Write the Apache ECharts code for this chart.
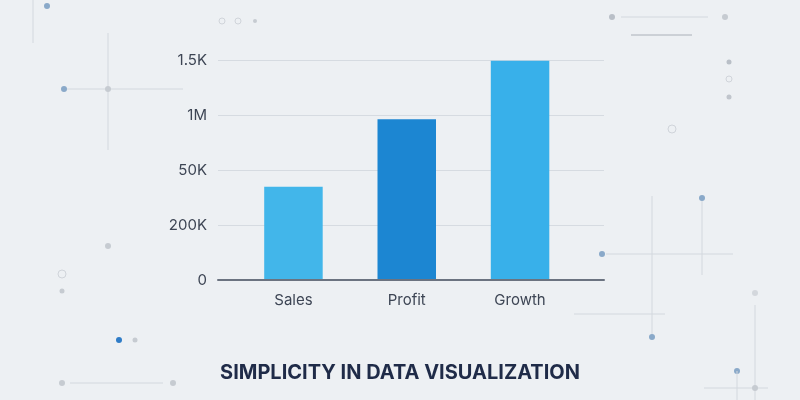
<!DOCTYPE html>
<html>
<head>
<meta charset="utf-8">
<script src="https://cdn.jsdelivr.net/npm/echarts@6/dist/echarts.min.js"></script>
<style>
html,body{margin:0;padding:0;background:#edf0f3;}
#c{width:800px;height:400px;}
</style>
</head>
<body>
<div id="c"></div>
<script>
// Data
const categories = ['Sales', 'Profit', 'Growth'];
const values = [1.70, 2.93, 4.0];           // in axis tick-step units
const yTickLabels = ['0', '200K', '50K', '1M', '1.5K'];
const barColors = ['#42b6ea', '#1c86d2', '#38b0ea'];
const titleText = 'SIMPLICITY IN DATA VISUALIZATION';

// Decorations (background ornaments only)
const lineC = '#d3d8de', dotBlue = '#8aa9c9', dotGray = '#c6cbd1';
function ln(x1,y1,x2,y2,c){return {type:'line',silent:true,z:-10,shape:{x1,y1,x2,y2},style:{stroke:c||lineC,lineWidth:1}};}
function dot(x,y,r,c){return {type:'circle',silent:true,z:-10,shape:{cx:x,cy:y,r:r},style:{fill:c}};}
function ring(x,y,r){return {type:'circle',silent:true,z:-10,shape:{cx:x,cy:y,r:r},style:{fill:'none',stroke:'#d0d4da',lineWidth:1}};}
const deco = [
  ln(33,0,33,43), dot(47,6,3,dotBlue),
  ln(108,33,108,150), ln(64,89,183,89), dot(64,89,3,dotBlue), dot(108,89,3,dotGray),
  ring(222,21,3), ring(238,21,3), dot(255,21,2,dotGray),
  dot(612,17,3,'#b9bfc7'), ln(621,17,708,17), dot(725,17,3,dotGray), ln(631,35,692,35,'#aab0b8'),
  dot(729,62,2.5,'#b9bfc7'), ring(729,79,3), dot(729,97,2.5,'#c0c5cc'), ring(672,129,4),
  ln(652,196,652,335), dot(652,337,3,dotBlue),
  ln(702,198,702,275), dot(702,198,3,dotBlue),
  ln(606,254,733,254), dot(602,254,3,dotBlue),
  ln(574,314,665,314),
  dot(755,293,3,'#d3d7dc'), ln(755,305,755,400), dot(737,371,3,dotBlue), ln(737,371,737,400),
  ln(704,388,768,388), dot(755,388,3,dotGray),
  dot(108,246,3,dotGray), ring(62,274,4), dot(62,291,2.5,dotGray),
  dot(119,340,3,'#2f7cc7'), dot(135,340,2.5,dotGray),
  ln(70,383,163,383), dot(62,383,3,dotGray), dot(173,383,3,dotGray)
];

const chart = echarts.init(document.getElementById('c'), null, {renderer:'canvas'});
chart.setOption({
  backgroundColor: '#edf0f3',
  animation: false,
  graphic: deco,
  title: {
    text: titleText, left: 'center', top: 358,
    textStyle: {fontFamily:'Inter, Roboto, sans-serif', fontSize:20, fontWeight:'bold', color:'#1f2b48'}
  },
  grid: [
    {left:218, right:196, top:60.7, bottom:120},
    {left:236.8, right:223.3, top:60.7, bottom:120}
  ],
  xAxis: [
    {gridIndex:0, type:'value', min:0, max:1, z:5,
     axisLine:{show:true, lineStyle:{color:'#6b7380', width:2}},
     axisTick:{show:false}, axisLabel:{show:false}, splitLine:{show:false}},
    {gridIndex:1, type:'category', data:categories,
     axisLine:{show:false}, axisTick:{show:false},
     axisLabel:{margin:13, fontSize:15, color:'#3d4554', fontFamily:'Inter, Roboto, sans-serif'}}
  ],
  yAxis: [
    {gridIndex:0, type:'value', min:0, max:4, interval:1,
     axisLine:{show:false}, axisTick:{show:false},
     axisLabel:{margin:11, fontSize:15, color:'#3d4554', fontFamily:'Inter, Roboto, sans-serif',
       formatter: v => yTickLabels[Math.round(v)] ?? ''},
     splitLine:{lineStyle:{color:'#d6dbe1', width:1}}},
    {gridIndex:1, type:'value', min:0, max:4, interval:1, show:false, splitLine:{show:false}}
  ],
  series: [{
    type:'bar', xAxisIndex:1, yAxisIndex:1,
    barWidth:58.5,
    data: values.map((v,i)=>({value:v, itemStyle:{color:barColors[i]}}))
  }]
});
</script>
</body>
</html>
